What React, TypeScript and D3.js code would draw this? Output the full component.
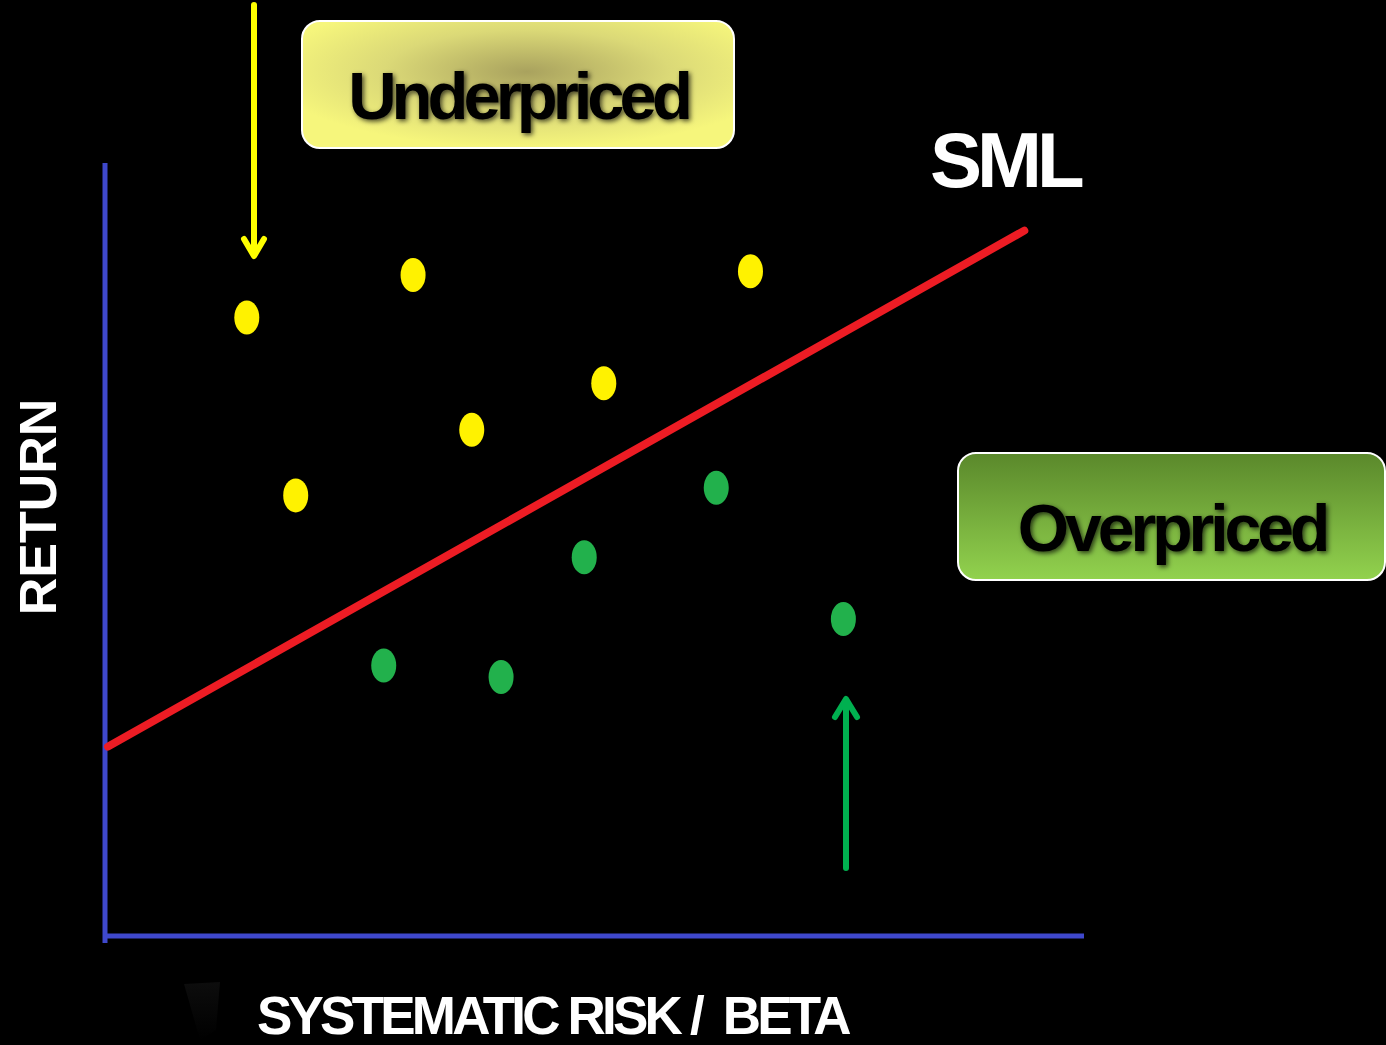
import React from 'react';
import * as d3 from 'd3';

// Security Market Line chart: stocks above the line are underpriced, below are overpriced
const underpricedBeta = [0.29, 0.63, 1.32, 1.02, 0.75, 0.39];
const underpricedReturn = [16.0, 17.1, 17.2, 14.3, 13.1, 11.4];

const overpricedBeta = [1.25, 0.98, 1.51, 0.57, 0.81];
const overpricedReturn = [11.6, 9.8, 8.2, 7.0, 6.7];

// SML end points (beta, return)
const smlBeta = [0.006, 1.88];
const smlReturn = [4.9, 18.25];

const W = 1386;
const H = 1045;

const App = () => {
  const x = d3.scaleLinear().domain([0, 2]).range([105, 1083]);
  const y = d3.scaleLinear().domain([0, 20]).range([936, 163]);

  const line = d3.line<number>()
    .x((_, i) => x(smlBeta[i]))
    .y((d) => y(d));

  const font = '"Liberation Sans", Arial, sans-serif';

  const dots = (betas: number[], rets: number[], color: string) =>
    betas.map((b, i) => (
      <ellipse key={i} cx={x(b)} cy={y(rets[i])} rx={12.5} ry={17} fill={color} />
    ));

  return (
    <svg
      width={W}
      height={H}
      style={{ position: 'absolute', left: 0, top: 0, display: 'block', background: '#000' }}
    >
      <defs>
        <radialGradient id="under" cx="0.52" cy="0.4" r="0.6">
          <stop offset="0" stopColor="#a9a25e" />
          <stop offset="0.55" stopColor="#dbd977" />
          <stop offset="1" stopColor="#f6f67c" />
        </radialGradient>
        <linearGradient id="over" x1="0" y1="0" x2="0" y2="1">
          <stop offset="0" stopColor="#5a882b" />
          <stop offset="1" stopColor="#92d24e" />
        </linearGradient>
        <linearGradient id="smudge" x1="0" y1="0" x2="0" y2="1">
          <stop offset="0" stopColor="#333" />
          <stop offset="1" stopColor="#000" />
        </linearGradient>
        <filter id="shadow" x="-10%" y="-30%" width="120%" height="160%">
          <feDropShadow dx="2" dy="2" stdDeviation="2.5" floodColor="#000" floodOpacity="0.7" />
        </filter>
      </defs>

      <rect width={W} height={H} fill="#000" />

      {/* axes */}
      <line x1={x(0)} x2={x(0)} y1={y(20)} y2={y(0) + 7} stroke="#3f48cc" strokeWidth={5} />
      <line x1={x(0) - 2} x2={x(2) + 1} y1={y(0)} y2={y(0)} stroke="#3f48cc" strokeWidth={5} />

      {/* SML */}
      <path
        d={line(smlReturn) || ''}
        fill="none"
        stroke="#ed1c24"
        strokeWidth={8}
        strokeLinecap="round"
      />
      <text
        x={930}
        y={187}
        fill="#fff"
        fontFamily={font}
        fontWeight="bold"
        fontSize={78}
        letterSpacing={-5}
      >
        SML
      </text>

      {dots(underpricedBeta, underpricedReturn, '#fff200')}
      {dots(overpricedBeta, overpricedReturn, '#22b14c')}

      {/* yellow arrow */}
      <g stroke="#ffff00" strokeWidth={6} fill="none" strokeLinecap="round" strokeLinejoin="round">
        <line x1={254} x2={254} y1={5} y2={254} />
        <polyline points="244,239 254,256 264,239" />
      </g>

      {/* green arrow */}
      <g stroke="#00b050" strokeWidth={6} fill="none" strokeLinecap="round" strokeLinejoin="round">
        <line x1={846} x2={846} y1={868} y2={700} />
        <polyline points="835,717 846,699 857,717" />
      </g>

      {/* Underpriced box */}
      <rect x={302} y={21} width={432} height={127} rx={18} fill="url(#under)" stroke="#fff" strokeWidth={2} />
      <text
        x={518}
        y={119}
        textAnchor="middle"
        fill="#000"
        fontFamily={font}
        fontWeight="bold"
        fontSize={67}
        letterSpacing={-5}
        filter="url(#shadow)"
      >
        Underpriced
      </text>

      {/* Overpriced box */}
      <rect x={958} y={453} width={427} height={127} rx={18} fill="url(#over)" stroke="#fff" strokeWidth={2} />
      <text
        x={1172}
        y={551}
        textAnchor="middle"
        fill="#000"
        fontFamily={font}
        fontWeight="bold"
        fontSize={66}
        letterSpacing={-4}
        filter="url(#shadow)"
      >
        Overpriced
      </text>

      {/* axis titles */}
      <text
        transform="translate(56,507) rotate(-90)"
        textAnchor="middle"
        fill="#fff"
        fontFamily={font}
        fontWeight="bold"
        fontSize={52}
      >
        RETURN
      </text>
      <text
        x={257}
        y={1034}
        fill="#fff"
        fontFamily={font}
        fontWeight="bold"
        fontSize={53}
        letterSpacing={-3.8}
        style={{ whiteSpace: 'pre' }}
      >
        {'SYSTEMATIC RISK /  BETA'}
      </text>

      {/* faint leftover artifact near the x title */}
      <path d="M184,984 L220,982 L216,1030 L200,1040 Z" fill="url(#smudge)" opacity={0.25} />
    </svg>
  );
};

export default App;
